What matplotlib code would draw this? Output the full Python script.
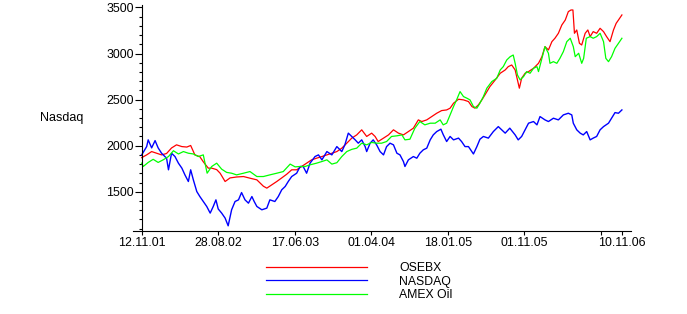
import matplotlib
matplotlib.use("Agg")
import matplotlib.pyplot as plt
from matplotlib.ticker import FixedLocator, MultipleLocator

plt.rcParams['font.family'] = ['Liberation Sans', 'DejaVu Sans']

# trading-day index (0 = 12.11.01) and index values
osebx_day = [0, 13, 26, 39, 52, 65, 78, 91, 105, 118, 128, 139, 152, 161, 174, 183, 196, 205, 218, 231,
             248, 266, 283, 301, 318, 327, 340, 353, 366, 379, 392, 405, 418, 431, 444, 457, 471, 484, 497, 510,
             523, 536, 549, 562, 575, 588, 601, 610, 618, 632, 645, 658, 671, 684, 697, 710, 723, 732, 745, 758,
             771, 784, 797, 806, 815, 828, 841, 854, 863, 871, 880, 889, 897, 910, 924, 937, 950, 958, 967, 976,
             982, 987, 993, 1002, 1011, 1024, 1037, 1046, 1054, 1063, 1072, 1080, 1089, 1098, 1107, 1115, 1122, 1127, 1131, 1137,
             1144, 1150, 1159, 1166, 1172, 1180, 1189, 1198, 1207, 1215, 1224, 1233, 1240, 1246, 1255]
osebx_val = [1870, 1900, 1936, 1918, 1900, 1915, 1975, 2009, 1990, 1985, 2002, 1900, 1880, 1825, 1756, 1756, 1740, 1701, 1611, 1650,
             1660, 1665, 1647, 1629, 1560, 1539, 1575, 1611, 1650, 1690, 1738, 1738, 1774, 1810, 1846, 1864, 1882, 1900, 1918, 1936,
             1973, 2027, 2082, 2117, 2172, 2100, 2136, 2100, 2045, 2082, 2117, 2172, 2136, 2117, 2153, 2190, 2280, 2262, 2280, 2316,
             2352, 2381, 2388, 2407, 2461, 2504, 2497, 2479, 2425, 2407, 2443, 2497, 2551, 2641, 2714, 2786, 2822, 2858, 2876, 2822,
             2714, 2624, 2732, 2786, 2804, 2840, 2894, 2966, 3075, 3039, 3129, 3166, 3220, 3310, 3364, 3455, 3473, 3473, 3220, 3256,
             3111, 3093, 3220, 3256, 3184, 3238, 3220, 3274, 3238, 3184, 3129, 3256, 3328, 3364, 3419]

nasdaq_day = [0, 13, 17, 26, 35, 43, 52, 65, 70, 78, 87, 96, 105, 113, 122, 128, 135, 144, 152, 161,
              170, 179, 187, 194, 200, 209, 218, 226, 235, 244, 253, 261, 270, 279, 288, 294, 301, 314, 327, 335,
              348, 357, 366, 375, 383, 392, 405, 414, 422, 431, 440, 453, 462, 471, 484, 497, 510, 523, 531, 540,
              549, 558, 566, 575, 584, 588, 597, 605, 614, 623, 632, 640, 649, 658, 667, 675, 684, 688, 697, 710,
              719, 727, 736, 745, 754, 762, 771, 782, 788, 797, 806, 815, 828, 836, 845, 854, 863, 867, 876, 884,
              893, 906, 919, 932, 941, 950, 962, 976, 984, 993, 1002, 1011, 1024, 1033, 1041, 1054, 1063, 1076, 1089, 1102,
              1115, 1124, 1128, 1137, 1146, 1154, 1163, 1172, 1180, 1189, 1198, 1207, 1220, 1228, 1237, 1246, 1255]
nasdaq_val = [1900, 1990, 2063, 1976, 2055, 1976, 1918, 1864, 1738, 1918, 1882, 1810, 1756, 1683, 1611, 1738, 1629, 1502, 1448, 1394,
              1340, 1268, 1340, 1412, 1313, 1268, 1214, 1130, 1304, 1394, 1412, 1491, 1412, 1376, 1448, 1394, 1340, 1304, 1322, 1412,
              1394, 1448, 1521, 1557, 1611, 1665, 1701, 1774, 1774, 1701, 1810, 1882, 1900, 1846, 1936, 1900, 1990, 1936, 2009, 2136,
              2100, 2063, 2027, 2063, 1990, 1936, 2027, 2063, 2009, 1936, 1900, 1990, 2027, 2009, 1918, 1900, 1828, 1774, 1846, 1882,
              1864, 1918, 1955, 1973, 2063, 2117, 2153, 2179, 2120, 2045, 2100, 2063, 2082, 2045, 1990, 1990, 1936, 1910, 1990, 2070,
              2100, 2082, 2153, 2207, 2172, 2136, 2190, 2117, 2063, 2100, 2172, 2244, 2262, 2226, 2316, 2280, 2262, 2298, 2280, 2334,
              2352, 2334, 2244, 2172, 2136, 2117, 2153, 2063, 2082, 2100, 2172, 2207, 2244, 2298, 2359, 2352, 2388]

amex_day = [0, 4, 17, 30, 43, 56, 70, 83, 96, 109, 122, 135, 148, 161, 171, 183, 196, 209, 222, 235,
            248, 266, 283, 301, 318, 335, 353, 370, 388, 401, 414, 427, 440, 457, 471, 484, 497, 510, 523, 536,
            549, 562, 575, 588, 601, 614, 627, 640, 653, 667, 680, 688, 701, 714, 727, 740, 754, 767, 780, 788,
            797, 806, 815, 823, 832, 841, 850, 858, 867, 876, 884, 893, 902, 915, 928, 937, 945, 954, 963, 971,
            976, 982, 989, 998, 1006, 1015, 1024, 1033, 1037, 1046, 1054, 1063, 1067, 1076, 1085, 1093, 1102, 1111, 1120, 1128,
            1133, 1142, 1150, 1155, 1162, 1172, 1180, 1189, 1198, 1207, 1213, 1220, 1228, 1237, 1246, 1255]
amex_val = [1810, 1774, 1818, 1852, 1818, 1846, 1882, 1945, 1910, 1936, 1918, 1910, 1882, 1900, 1701, 1774, 1810, 1745, 1710, 1701,
            1683, 1701, 1719, 1665, 1665, 1683, 1701, 1719, 1800, 1770, 1774, 1774, 1792, 1810, 1828, 1846, 1800, 1815, 1882, 1936,
            1960, 1973, 2027, 2009, 2035, 2027, 2027, 2045, 2100, 2107, 2117, 2063, 2070, 2190, 2262, 2226, 2244, 2244, 2280, 2226,
            2244, 2334, 2425, 2497, 2587, 2533, 2515, 2497, 2425, 2407, 2461, 2533, 2624, 2696, 2732, 2822, 2858, 2930, 2966, 2984,
            2894, 2768, 2714, 2750, 2804, 2786, 2840, 2858, 2804, 2948, 3075, 3003, 2894, 2912, 2894, 2948, 3021, 3129, 3166, 3075,
            2966, 3003, 2894, 2948, 3166, 3184, 3166, 3184, 3220, 3129, 2948, 2912, 2966, 3057, 3111, 3166]

tick_days = [0, 200, 400, 600, 800, 1000, 1200, 1255]
tick_labels = ["12.11.01", "28.08.02", "17.06.03", "01.04.04", "18.01.05", "01.11.05", "", "10.11.06"]

W, H = 687, 314
fig = plt.figure(figsize=(W / 100, H / 100), dpi=100)
ax = fig.add_axes([132.7 / W, 1 - 230.7 / H, (630.7 - 132.7) / W, (230.7 - 5) / H])

l1, = ax.plot(osebx_day, osebx_val, color="#ff0000", lw=0.9, label="OSEBX")
l2, = ax.plot(nasdaq_day, nasdaq_val, color="#0000ff", lw=1.0, label="NASDAQ")
l3, = ax.plot(amex_day, amex_val, color="#00ff00", lw=0.9, label="AMEX Oil")

ax.set_xlim(-23.5, 1278)
ax.set_ylim(1077, 3527)

for s in ("top", "right"):
    ax.spines[s].set_visible(False)
ax.spines["left"].set_position(("data", 0))
for s in ("left", "bottom"):
    ax.spines[s].set_linewidth(0.8)
    ax.spines[s].set_color("black")

ax.yaxis.set_major_locator(FixedLocator([1500, 2000, 2500, 3000, 3500]))
ax.yaxis.set_minor_locator(MultipleLocator(100))
ax.tick_params(axis="y", which="major", length=5, width=0.8, pad=0.5, labelsize=8.9)
ax.tick_params(axis="y", which="minor", length=2.5, width=0.8)

ax.xaxis.set_major_locator(FixedLocator(tick_days))
ax.set_xticklabels(tick_labels)
ax.tick_params(axis="x", which="major", length=3, width=0.8, pad=1.5, labelsize=8.9)

fig.text(40 / W, 1 - 118 / H, "Nasdaq", ha="left", va="center", fontsize=9)

fig.legend(handles=[l1, l2, l3], loc="center left", bbox_to_anchor=(266 / W, 1 - 281.5 / H),
           frameon=False, borderpad=0, borderaxespad=0, handlelength=8.3, handletextpad=2.6,
           labelspacing=0.12, fontsize=8.8)
for h in fig.legends[0].get_lines():
    h.set_linewidth(0.9)

fig.savefig("out.png", dpi=100)
